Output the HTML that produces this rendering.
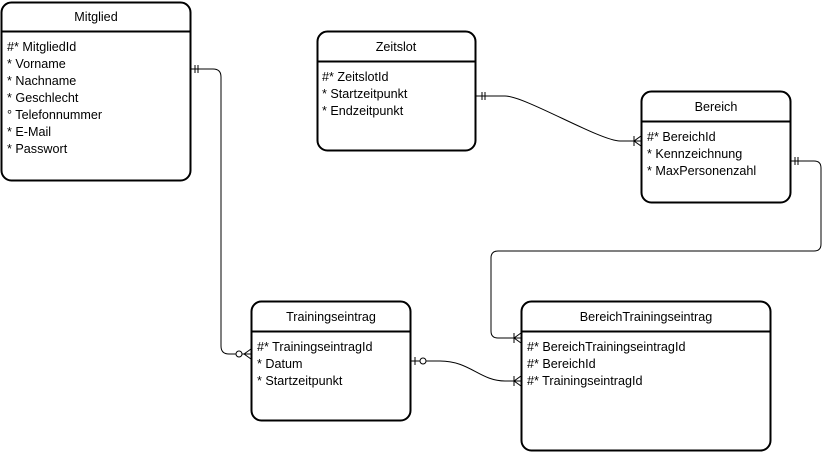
<!DOCTYPE html>
<html><head><meta charset="utf-8"><style>
html,body{margin:0;padding:0;background:#fff}
svg{display:block}
text{font-family:"Liberation Sans",Arial,sans-serif;font-size:12.6px;fill:#000}
</style></head><body>
<svg width="831" height="452" viewBox="0 0 831 452" xmlns="http://www.w3.org/2000/svg">
<g fill="#fff" stroke="#000" stroke-width="2">
<rect x="1.5" y="2.5" width="189" height="178" rx="10"/>
<line x1="1.5" y1="31.5" x2="190.5" y2="31.5"/>
<rect x="317.5" y="31.5" width="158" height="119" rx="10"/>
<line x1="317.5" y1="61.5" x2="475.5" y2="61.5"/>
<rect x="641.5" y="91.5" width="149" height="111" rx="10"/>
<line x1="641.5" y1="121.5" x2="790.5" y2="121.5"/>
<rect x="251.5" y="301.5" width="159" height="119" rx="10"/>
<line x1="251.5" y1="331.5" x2="410.5" y2="331.5"/>
<rect x="521.5" y="301.5" width="249" height="149" rx="10"/>
<line x1="521.5" y1="331.5" x2="770.5" y2="331.5"/>
</g>
<g text-anchor="middle">
<text x="96" y="21">Mitglied</text>
<text x="396" y="51">Zeitslot</text>
<text x="716" y="111">Bereich</text>
<text x="331" y="321">Trainingseintrag</text>
<text x="646" y="321">BereichTrainingseintrag</text>
</g>
<text x="7" y="51">#* MitgliedId</text>
<text x="7" y="68">* Vorname</text>
<text x="7" y="85">* Nachname</text>
<text x="7" y="102">* Geschlecht</text>
<text x="7" y="119">° Telefonnummer</text>
<text x="7" y="136">* E-Mail</text>
<text x="7" y="153">* Passwort</text>
<text x="322" y="81">#* ZeitslotId</text>
<text x="322" y="98">* Startzeitpunkt</text>
<text x="322" y="115">* Endzeitpunkt</text>
<text x="647" y="141">#* BereichId</text>
<text x="647" y="158">* Kennzeichnung</text>
<text x="647" y="175">* MaxPersonenzahl</text>
<text x="257" y="351">#* TrainingseintragId</text>
<text x="257" y="368">* Datum</text>
<text x="257" y="385">* Startzeitpunkt</text>
<text x="527" y="351">#* BereichTrainingseintragId</text>
<text x="527" y="368">#* BereichId</text>
<text x="527" y="385">#* TrainingseintragId</text>
<g fill="none" stroke="#000" stroke-width="1">
<path d="M191 69 H213 Q221 69 221 77 V346 Q221 354 229 354 H251"/>
<path d="M195 65 V73 M198 65 V73"/>
<circle cx="239" cy="354" r="3" fill="#fff"/>
<path d="M244 354 L251 349 M244 354 L251 359"/>
<path d="M476 96 H505 C525 96 600 141 620 141 H641"/>
<path d="M482 92 V100 M485 92 V100"/>
<path d="M634 141 L641 136 M634 141 L641 146 M634 136 V146"/>
<path d="M791 161 H814 Q821 161 821 168 V244 Q821 251 814 251 H498 Q491 251 491 258 V331 Q491 338 498 338 H521"/>
<path d="M795 157 V165 M798 157 V165"/>
<path d="M514 338 L521 333 M514 338 L521 343 M514 333 V343"/>
<path d="M411 361 H440 C470 361 480 381 505 381 H521"/>
<path d="M415 357 V365"/>
<circle cx="423" cy="361" r="3" fill="#fff"/>
<path d="M514 381 L521 376 M514 381 L521 386 M514 376 V386"/>
</g>
</svg>
</body></html>
